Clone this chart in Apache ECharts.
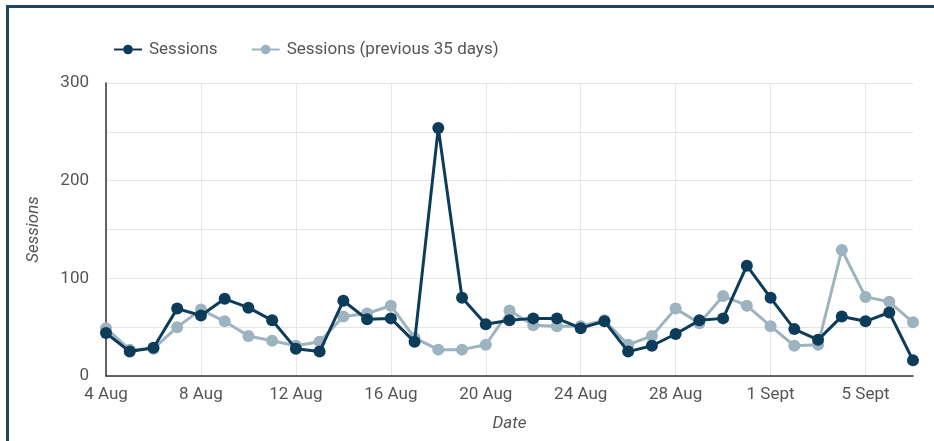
<!DOCTYPE html>
<html>
<head>
<meta charset="utf-8">
<script src="https://cdn.jsdelivr.net/npm/echarts@6/dist/echarts.min.js"></script>
<style>
html, body { margin: 0; padding: 0; background: #fff; }
#frame {
    position: absolute; left: 6px; top: 5px; width: 940px; height: 460px;
    border-left: 3px solid #1d4860; border-top: 3px solid #1d4860;
}
#main { position: absolute; left: 0; top: 0; width: 934px; height: 441px; }
</style>
</head>
<body>
<div id="frame"></div>
<div id="main"></div>
<script>
// 日期 4 Aug - 7 Sept
var dates = ['4 Aug', '5 Aug', '6 Aug', '7 Aug', '8 Aug', '9 Aug', '10 Aug', '11 Aug', '12 Aug', '13 Aug',
    '14 Aug', '15 Aug', '16 Aug', '17 Aug', '18 Aug', '19 Aug', '20 Aug', '21 Aug', '22 Aug', '23 Aug',
    '24 Aug', '25 Aug', '26 Aug', '27 Aug', '28 Aug', '29 Aug', '30 Aug', '31 Aug', '1 Sept', '2 Sept',
    '3 Sept', '4 Sept', '5 Sept', '6 Sept', '7 Sept']
var sessions = [44, 25, 29, 69, 62, 79, 70, 57, 28, 25,
    77, 58, 59, 35, 254, 80, 53, 57, 59, 59,
    49, 56, 25, 31, 43, 57, 59, 113, 80, 48,
    37, 61, 56, 65, 16]
var sessionsPrev = [49, 27, 28, 50, 68, 56, 41, 36, 31, 35,
    61, 64, 72, 39, 27, 27, 32, 67, 52, 51,
    51, 57, 32, 41, 69, 54, 82, 72, 51, 31,
    32, 129, 81, 76, 55]
var yTicks = [0, 100, 200, 300]

var chart = echarts.init(document.getElementById('main'))
chart.setOption({
    animation: false,
    legend: {
        left: 108,
        top: 36,
        itemWidth: 28,
        itemHeight: 12,
        itemGap: 33,
        textStyle: { fontFamily: 'Roboto', fontSize: 17, color: '#555', padding: [0, 0, 0, 2] },
        data: ['Sessions', 'Sessions (previous 35 days)']
    },
    grid: { left: 106, right: 21, top: 83, bottom: 65 },
    xAxis: {
        type: 'category',
        data: dates,
        boundaryGap: false,
        name: 'Date',
        nameLocation: 'middle',
        nameGap: 39,
        nameTextStyle: { fontFamily: 'Roboto', fontSize: 17, fontStyle: 'italic', color: '#555' },
        axisLine: { lineStyle: { color: '#333', width: 1.5 } },
        axisTick: { show: false },
        axisLabel: { interval: 3, fontFamily: 'Roboto', fontSize: 17, color: '#555', margin: 10 },
        splitLine: { show: true, interval: 3, lineStyle: { color: '#e6e6e6' } }
    },
    yAxis: {
        type: 'value',
        min: 0,
        max: 300,
        interval: 50,
        name: 'Sessions',
        nameLocation: 'middle',
        nameGap: 64,
        nameTextStyle: { fontFamily: 'Roboto', fontSize: 17, fontStyle: 'italic', color: '#555' },
        axisLine: { show: true, lineStyle: { color: '#333', width: 1.5 } },
        axisTick: { show: false },
        axisLabel: {
            fontFamily: 'Roboto', fontSize: 17, color: '#555', margin: 17,
            formatter: function (v) { return yTicks.indexOf(v) >= 0 ? String(v) : '' }
        },
        splitLine: { lineStyle: { color: '#e6e6e6' } }
    },
    series: [{
        name: 'Sessions (previous 35 days)',
        type: 'line',
        data: sessionsPrev,
        z: 2,
        symbol: 'circle',
        symbolSize: 12,
        itemStyle: { color: '#9db4c0' },
        lineStyle: { color: '#9db4c0', width: 3 }
    }, {
        name: 'Sessions',
        type: 'line',
        data: sessions,
        z: 3,
        symbol: 'circle',
        symbolSize: 12,
        itemStyle: { color: '#0d3c5a' },
        lineStyle: { color: '#0d3c5a', width: 3 }
    }]
})
</script>
</body>
</html>
